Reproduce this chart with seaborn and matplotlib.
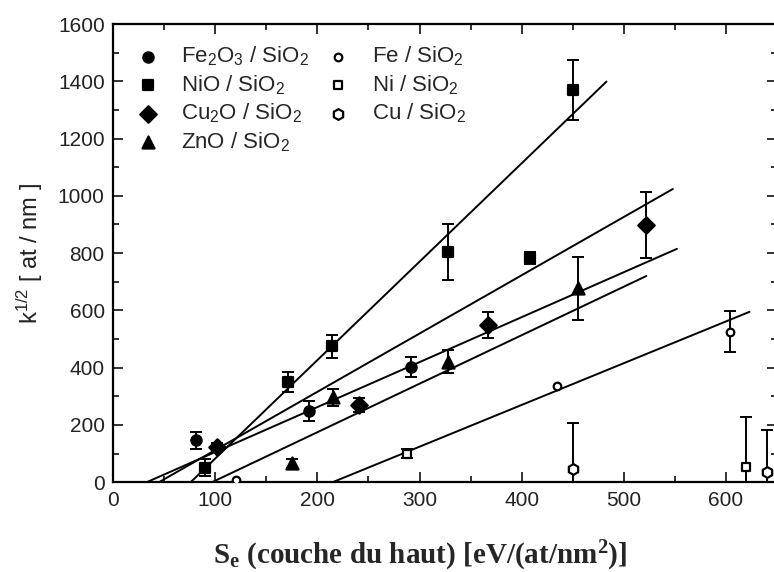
import numpy as np
import pandas as pd
import matplotlib
matplotlib.use("Agg")
import matplotlib.pyplot as plt
import seaborn as sns

# ---- data -------------------------------------------------------------
# Oxide layers on SiO2 (filled symbols)
fe2o3_x = [81, 192, 292]
fe2o3_y = [147, 248, 402]
fe2o3_err = [30, 35, 35]

nio_x = [90, 171, 214, 328, 408, 450]
nio_y = [50, 350, 475, 804, 783, 1370]
nio_err = [30, 35, 40, 97, 20, 105]

cu2o_x = [102, 241, 367, 522]
cu2o_y = [122, 269, 549, 899]
cu2o_err = [15, 25, 45, 115]

zno_x = [175, 215, 328, 455]
zno_y = [66, 297, 420, 678]
zno_err = [15, 30, 40, 110]

# Metal layers on SiO2 (open symbols)
fe_x = [120, 435, 604]
fe_y = [8, 337, 525]
fe_err = [0, 0, 72]

ni_x = [288, 620]
ni_y = [100, 53]
ni_err = [15, 175]

cu_x = [450, 640]
cu_y = [45, 36]
cu_err = [160, 146]

# Linear fits: (x_start, x_end), (y_start, y_end)
fit_x = [[76, 483], [45, 548], [33, 552], [97, 522], [215, 623]]
fit_y = [[0, 1399], [0, 1024], [0, 815], [0, 720], [0, 595]]

labels = [r"Fe$_2$O$_3$ / SiO$_2$", r"NiO / SiO$_2$", r"Cu$_2$O / SiO$_2$",
          r"ZnO / SiO$_2$", r"Fe / SiO$_2$", r"Ni / SiO$_2$", r"Cu / SiO$_2$"]

x_ticks = [0, 100, 200, 300, 400, 500, 600]
y_ticks = [0, 200, 400, 600, 800, 1000, 1200, 1400, 1600]

# ---- style ------------------------------------------------------------
sns.set_style("ticks")
plt.rcParams["font.family"] = ["Liberation Sans", "DejaVu Sans"]
plt.rcParams["mathtext.default"] = "regular"
plt.rcParams["xtick.direction"] = "in"
plt.rcParams["ytick.direction"] = "in"

fig = plt.figure(figsize=(7.74, 5.72), dpi=100)
ax = fig.add_axes([0.146, 0.157, 0.858, 0.801])

# fit lines
for xs, ys in zip(fit_x, fit_y):
    sns.lineplot(x=xs, y=ys, ax=ax, color="black", lw=1.4, sort=False,
                 estimator=None)

series = [
    (fe2o3_x, fe2o3_y, fe2o3_err, "o", 55, "black"),
    (nio_x, nio_y, nio_err, "s", 60, "black"),
    (cu2o_x, cu2o_y, cu2o_err, "D", 70, "black"),
    (zno_x, zno_y, zno_err, "^", 75, "black"),
    (fe_x, fe_y, fe_err, "o", 30, "white"),
    (ni_x, ni_y, ni_err, "s", 35, "white"),
    (cu_x, cu_y, cu_err, "h", 60, "white"),
]

handles = []
for (xs, ys, errs, mk, size, face), lab in zip(series, labels):
    df = pd.DataFrame({"x": xs, "y": ys, "err": errs})
    e = df[df["err"] > 0]
    ax.errorbar(e["x"], e["y"], yerr=e["err"], fmt="none", ecolor="black",
                elinewidth=1.4, capsize=4, capthick=1.4, zorder=3)
    sns.scatterplot(data=df, x="x", y="y", ax=ax, marker=mk, s=size,
                    color=face, edgecolor="black", linewidth=1.6,
                    zorder=4, label=lab, legend=False)
    handles.append(ax.collections[-1])

ax.set_xlim(0, 650)
ax.set_ylim(0, 1600)
ax.set_xticks(x_ticks)
ax.set_yticks(y_ticks)
ax.set_xticks(np.arange(50, 650, 100), minor=True)
ax.set_yticks(np.arange(100, 1600, 200), minor=True)
ax.tick_params(which="both", top=True, right=True, width=1.3,
               labelsize=15, colors="#222222")
ax.tick_params(which="major", length=7, pad=6)
ax.tick_params(which="minor", length=4)
for sp in ax.spines.values():
    sp.set_linewidth(1.6)
    sp.set_color("black")

ax.set_xlabel("")
ax.set_ylabel(r"k$^{1/2}$ [ at / nm ]", fontsize=17, labelpad=9,
              color="#222222")

fig.text(0.543, 1 - 556 / 572, r"S$_e$ (couche du haut) [eV/(at/nm$^2$)]",
         ha="center", va="center", fontsize=21, fontweight="bold",
         family="Liberation Serif")

leg = ax.legend(handles=handles, labels=labels, ncol=2, frameon=False,
                loc="upper left", bbox_to_anchor=(24 / 664, 0.955),
                fontsize=16, handlelength=1.0, handletextpad=1.0,
                columnspacing=0.8, labelspacing=0.22, borderaxespad=0,
                borderpad=0)

fig.savefig("out.png", dpi=100)
